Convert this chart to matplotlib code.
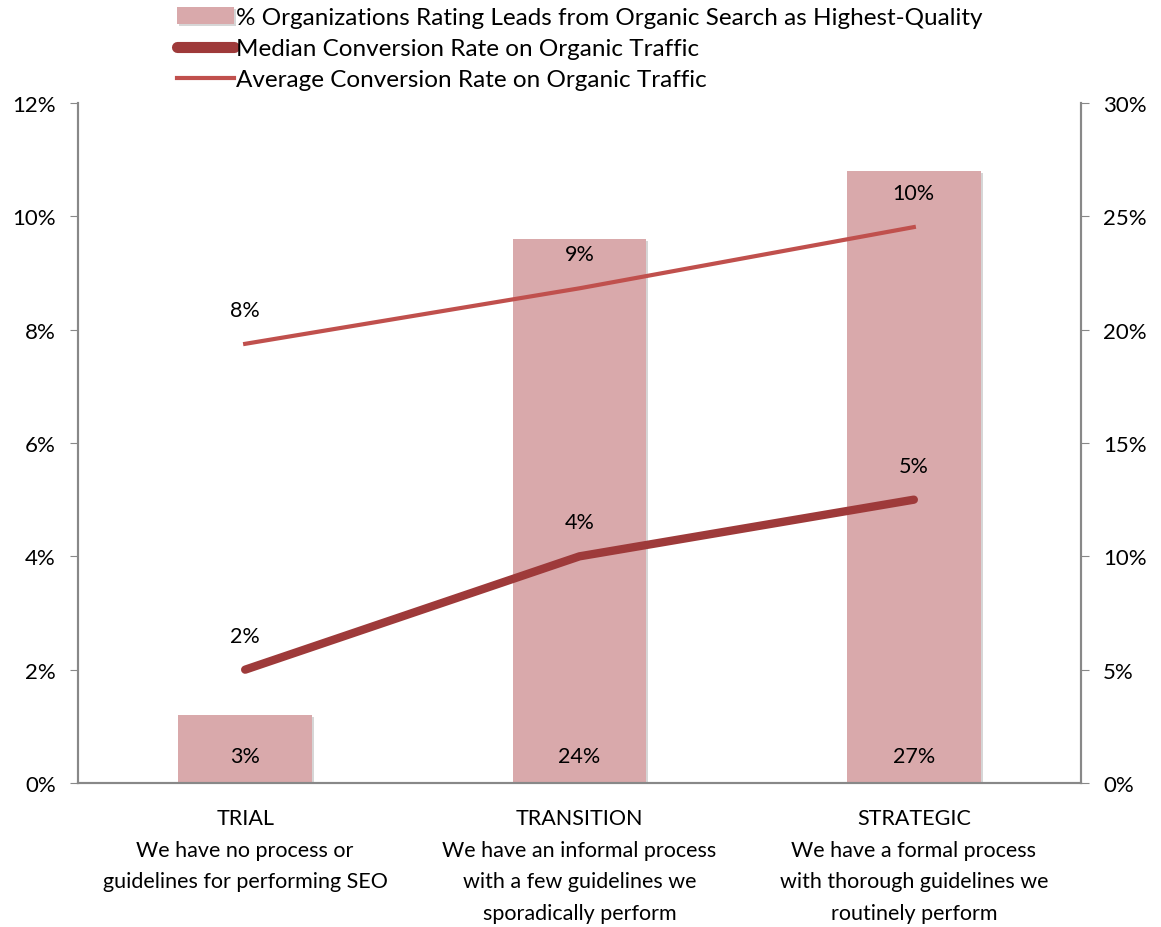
import matplotlib
matplotlib.use('Agg')
import matplotlib.pyplot as plt
import matplotlib.patheffects as pe
import numpy as np

plt.rcParams['font.family'] = ['Lato', 'DejaVu Sans']

categories = ["TRIAL\nWe have no process or\nguidelines for performing SEO",
              "TRANSITION\nWe have an informal process\nwith a few guidelines we\nsporadically perform",
              "STRATEGIC\nWe have a formal process\nwith thorough guidelines we\nroutinely perform"]
pct_highest_quality = [3, 24, 27]        # right axis
median_conv = [2.0, 4.0, 5.0]            # left axis
average_conv = [7.75, 8.73, 9.81]        # left axis
median_labels = ["2%", "4%", "5%"]
average_labels = ["8%", "9%", "10%"]
bar_labels = ["3%", "24%", "27%"]

bar_col = '#D9A9AB'
median_col = '#9E3A3A'
avg_col = '#C0504D'
grey = '#888888'

fig = plt.figure(figsize=(11.61, 9.28), dpi=100)
ax = fig.add_axes([78/1161, 1 - 784/928, (1081-78)/1161, (784-104)/928])
ax2 = ax.twinx()

x = np.arange(len(categories))

# bars on secondary axis
bars = ax2.bar(x, pct_highest_quality, width=0.4, color=bar_col, zorder=1,
               path_effects=[pe.SimplePatchShadow(offset=(1.5, -1.5), shadow_rgbFace='#bbbbbb', alpha=0.6),
                             pe.Normal()])
for xi, lab in zip(x, bar_labels):
    ax2.text(xi, 1.2, lab, ha='center', va='center', fontsize=15.5)

ax.set_zorder(ax2.get_zorder() + 1)
ax.patch.set_visible(False)

ax.plot(x, median_conv, color=median_col, lw=6, solid_capstyle='round')
ax.plot(x, average_conv, color=avg_col, lw=3)
for xi, v, lab in zip(x, median_conv, median_labels):
    ax.text(xi, v + 0.6, lab, ha='center', va='center', fontsize=15.5)
for xi, v, lab in zip(x, average_conv, average_labels):
    ax.text(xi, v + 0.6, lab, ha='center', va='center', fontsize=15.5)

ax.set_xlim(-0.5, 2.5)
ax.set_ylim(0, 12)
ax2.set_ylim(0, 30)
ax.set_yticks(np.arange(0, 13, 2))
ax.set_yticklabels([f"{v}%" for v in range(0, 13, 2)])
ax2.set_yticks(np.arange(0, 31, 5))
ax2.set_yticklabels([f"{v}%" for v in range(0, 31, 5)])
ax.set_xticks(x)
ax.set_xticklabels(categories, fontsize=15.5, linespacing=1.72)
ax.tick_params(axis='x', length=0, pad=18)
ax.tick_params(axis='y', labelsize=16, length=6, color=grey, pad=10)
ax2.tick_params(axis='y', labelsize=16, length=6, color=grey, pad=10)

for a in (ax, ax2):
    a.spines['top'].set_visible(False)
    for s in ('left', 'right', 'bottom'):
        a.spines[s].set_color(grey)
        a.spines[s].set_linewidth(1.5)

handles = [bars, ax.lines[0], ax.lines[1]]
labels = ["% Organizations Rating Leads from Organic Search as Highest-Quality",
          "Median Conversion Rate on Organic Traffic",
          "Average Conversion Rate on Organic Traffic"]
leg = fig.legend(handles, labels, loc='upper left', bbox_to_anchor=(172/1161, 1 - 3/928),
                 frameon=False, fontsize=17.5, handlelength=2.35, handletextpad=0.1,
                 labelspacing=0.42, borderaxespad=0.0, borderpad=0.2)
leg.get_lines()[0].set_linewidth(8)

fig.savefig('out.png', dpi=100)
